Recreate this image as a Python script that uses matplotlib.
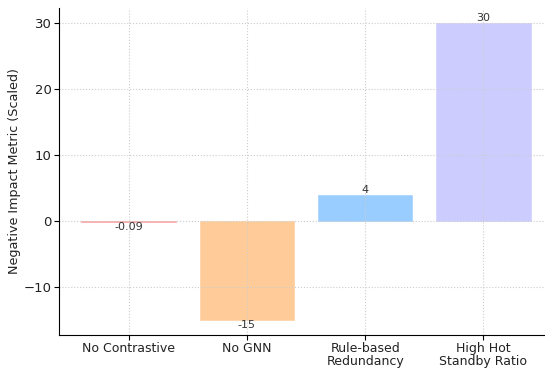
import matplotlib.pyplot as plt

categories = ['No Contrastive', 'No GNN', 'Rule-based\nRedundancy', 'High Hot\nStandby Ratio']
values = [-0.09, -15, 4, 30]
labels = ['-0.09', '-15', '4', '30']
colors = ['#ff9999', '#ffcc99', '#99ccff', '#ccccff']

fig = plt.figure(figsize=(5.45, 3.68), dpi=100)
ax = fig.add_axes([0.108, 0.09, 0.907, 0.888])

bars = ax.bar(range(len(categories)), values, width=0.8, color=colors,
              edgecolor=colors, linewidth=0.4)
for b, v, t in zip(bars, values, labels):
    va = 'bottom' if v > 0 else 'top'
    ax.text(b.get_x() + b.get_width() / 2, v, t, ha='center', va=va,
            fontsize=8, color='#333333')

ax.set_xticks(range(len(categories)))
ax.set_xticklabels(categories, fontsize=9, color='#222222', linespacing=1.0)
ax.tick_params(axis='x', pad=1.5)
ax.tick_params(axis='y', labelsize=9.5, labelcolor='#222222', pad=1.5)
ax.set_ylabel('Negative Impact Metric (Scaled)', fontsize=9.2, color='#222222',
              labelpad=2)
ax.grid(True, linestyle=':', color='#cccccc', linewidth=0.8)
ax.spines['top'].set_visible(False)
ax.spines['right'].set_visible(False)

fig.savefig('out.png', dpi=100)
